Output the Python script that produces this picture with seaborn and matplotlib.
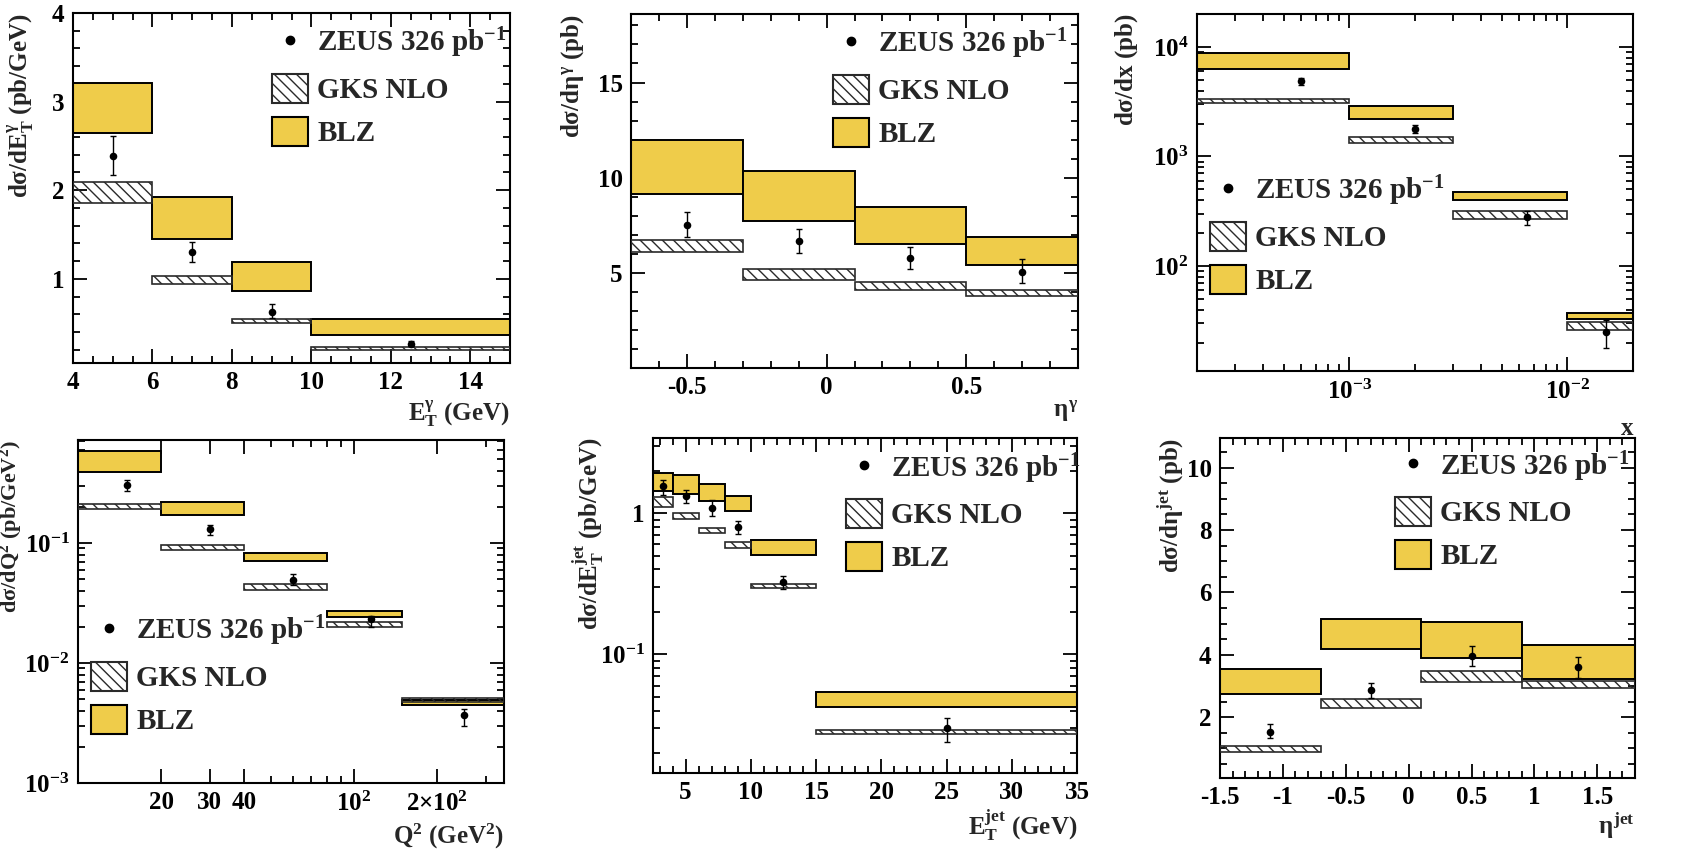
import numpy as np
import matplotlib
matplotlib.use("Agg")
import matplotlib.pyplot as plt
import seaborn as sns
from matplotlib.patches import Patch
from matplotlib.lines import Line2D
from matplotlib.ticker import (MultipleLocator, FixedLocator, FixedFormatter, LogLocator,
                               NullFormatter, FuncFormatter)

# ---------------- data ----------------
# Panel 1: dsigma/dE_T^gamma
ETG_EDGES = [4, 6, 8, 10, 15]
ETG_BLZ_LO = [2.65, 1.45, 0.86, 0.37]
ETG_BLZ_HI = [3.21, 1.92, 1.19, 0.55]
ETG_GKS_LO = [1.86, 0.94, 0.50, 0.20]
ETG_GKS_HI = [2.09, 1.03, 0.55, 0.23]
ETG_X = [5, 7, 9, 12.5]
ETG_Y = [2.39, 1.30, 0.63, 0.27]
ETG_UP = [0.22, 0.11, 0.09, 0.03]
ETG_DN = [0.22, 0.11, 0.07, 0.03]

# Panel 2: dsigma/deta^gamma
ETAG_EDGES = [-0.7, -0.3, 0.1, 0.5, 0.9]
ETAG_BLZ_LO = [9.14, 7.74, 6.54, 5.40]
ETAG_BLZ_HI = [11.98, 10.35, 8.44, 6.86]
ETAG_GKS_LO = [6.11, 4.61, 4.12, 3.77]
ETAG_GKS_HI = [6.72, 5.18, 4.54, 4.09]
ETAG_X = [-0.5, -0.1, 0.3, 0.7]
ETAG_Y = [7.53, 6.65, 5.77, 5.07]
ETAG_UP = [0.68, 0.63, 0.60, 0.65]
ETAG_DN = [0.67, 0.61, 0.59, 0.63]

# Panel 3: dsigma/dx
X_EDGES = [2e-4, 1e-3, 3e-3, 1e-2, 2e-2]
X_BLZ_LO = [6340, 2220, 403, 33]
X_BLZ_HI = [8870, 2900, 470, 37.5]
X_GKS_LO = [3060, 1315, 268, 25.9]
X_GKS_HI = [3380, 1520, 320, 30.8]
X_X = [6e-4, 2e-3, 6.5e-3, 1.5e-2]
X_Y = [4870, 1800, 278, 25]
X_UP = [350, 150, 40, 7]
X_DN = [350, 150, 40, 7]

# Panel 4: dsigma/dQ^2
Q2_EDGES = [10, 20, 40, 80, 150, 350]
Q2_BLZ_LO = [0.388, 0.170, 0.0704, 0.0240, 0.00443]
Q2_BLZ_HI = [0.58, 0.22, 0.0826, 0.0273, 0.00489]
Q2_GKS_LO = [0.19, 0.088, 0.0408, 0.020, 0.00473]
Q2_GKS_HI = [0.211, 0.0957, 0.0455, 0.022, 0.00514]
Q2_X = [15, 30, 60, 115, 250]
Q2_Y = [0.303, 0.131, 0.0495, 0.0234, 0.00371]
Q2_UP = [0.031, 0.011, 0.006, 0.0012, 0.0004]
Q2_DN = [0.033, 0.014, 0.0052, 0.0034, 0.0007]

# Panel 5: dsigma/dE_T^jet
ETJ_EDGES = [2.5, 4, 6, 8, 10, 15, 35]
ETJ_BLZ_LO = [1.44, 1.37, 1.22, 1.04, 0.504, 0.0426]
ETJ_BLZ_HI = [1.92, 1.87, 1.61, 1.33, 0.647, 0.0543]
ETJ_GKS_LO = [1.10, 0.91, 0.72, 0.57, 0.294, 0.0275]
ETJ_GKS_HI = [1.30, 1.01, 0.78, 0.62, 0.315, 0.029]
ETJ_X = [3.25, 5, 7, 9, 12.5, 25]
ETJ_Y = [1.55, 1.33, 1.08, 0.80, 0.327, 0.030]
ETJ_UP = [0.17, 0.13, 0.16, 0.08, 0.033, 0.0055]
ETJ_DN = [0.20, 0.15, 0.12, 0.09, 0.037, 0.006]

# Panel 6: dsigma/deta^jet
ETAJ_EDGES = [-1.5, -0.7, 0.1, 0.9, 1.8]
ETAJ_BLZ_LO = [2.74, 4.18, 3.89, 3.22]
ETAJ_BLZ_HI = [3.54, 5.16, 5.06, 4.32]
ETAJ_GKS_LO = [0.89, 2.30, 3.14, 2.95]
ETAJ_GKS_HI = [1.09, 2.59, 3.49, 3.15]
ETAJ_X = [-1.1, -0.3, 0.5, 1.35]
ETAJ_Y = [1.53, 2.86, 3.95, 3.60]
ETAJ_UP = [0.24, 0.25, 0.33, 0.33]
ETAJ_DN = [0.19, 0.23, 0.32, 0.33]

LEGEND_LABELS = ["ZEUS 326 pb$^{-1}$", "GKS NLO", "BLZ"]

# ---------------- style ----------------
sns.set_theme(style="ticks")
plt.rcParams.update({
    "font.family": ["Liberation Serif", "DejaVu Serif"],
    "font.weight": "bold",
    "axes.labelweight": "bold",
    "mathtext.fontset": "custom",
    "mathtext.rm": "Liberation Serif:bold",
    "mathtext.it": "Liberation Serif:bold",
    "mathtext.bf": "Liberation Serif:bold",
    "mathtext.sf": "Liberation Serif:bold",
    "hatch.linewidth": 1.0,
    "axes.unicode_minus": False,
})

YELLOW = "#EFCC4A"
HATCH = "\\\\\\"
W, H = 1702, 851
TICK_FS = 18
LABEL_FS = 18
LEG_FS = 21

fig = plt.figure(figsize=(W / 100, H / 100), dpi=100)
plain = FuncFormatter(lambda v, p: "%g" % v)


def px_axes(left, right, top, bottom):
    return fig.add_axes([left / W, 1 - bottom / H, (right - left) / W, (bottom - top) / H])


def draw(ax, edges, blo, bhi, glo, ghi, x, y, up, dn):
    edges = np.asarray(edges, float)
    widths = np.diff(edges)
    blo, bhi = np.asarray(blo), np.asarray(bhi)
    glo, ghi = np.asarray(glo), np.asarray(ghi)
    ax.bar(edges[:-1], bhi - blo, width=widths, bottom=blo, align="edge",
           color=YELLOW, edgecolor="black", linewidth=1.4, zorder=2)
    ax.bar(edges[:-1], ghi - glo, width=widths, bottom=glo, align="edge",
           facecolor="none", edgecolor="#2a2a2a", hatch=HATCH, linewidth=1.2, zorder=3)
    ax.errorbar(x, y, yerr=[dn, up], fmt="none", ecolor="black", elinewidth=1.0,
                capsize=2.5, capthick=1.0, zorder=4)
    sns.scatterplot(x=x, y=y, ax=ax, color="black", s=30, marker="o",
                    edgecolor="black", linewidth=0, zorder=5, legend=False)


def style(ax):
    for s in ax.spines.values():
        s.set_linewidth(1.5)
        s.set_color("black")
    ax.tick_params(which="both", direction="in", top=True, right=True,
                   width=1.3, labelsize=TICK_FS, pad=6, colors="black")
    ax.tick_params(which="major", length=10)
    ax.tick_params(which="minor", length=5)
    for lab in ax.get_xticklabels() + ax.get_yticklabels():
        lab.set_fontweight("bold")


def labels(ax, xl, yl, xly, yllx, yfs=LABEL_FS):
    ax.set_xlabel(xl, fontsize=LABEL_FS, fontweight="bold", loc="right")
    ax.set_ylabel(yl, fontsize=yfs, fontweight="bold", loc="top")
    ax.xaxis.set_label_coords(1.0, xly)
    ax.yaxis.set_label_coords(yllx, 1.0)


def legend(ax, px, py):
    handles = [
        Line2D([], [], marker="o", color="black", linestyle="none", markersize=6),
        Patch(facecolor="white", edgecolor="#2a2a2a", hatch=HATCH, linewidth=1.5),
        Patch(facecolor=YELLOW, edgecolor="black", linewidth=1.5),
    ]
    ax.legend(handles, LEGEND_LABELS, loc="upper left",
              bbox_to_anchor=(px / W, 1 - py / H), bbox_transform=fig.transFigure,
              frameon=False, borderpad=0, borderaxespad=0, handlelength=1.25,
              handleheight=1.15, labelspacing=0.45, handletextpad=0.3,
              prop={"family": "Liberation Serif", "weight": "bold", "size": LEG_FS})


def log_minor(ax, axis):
    loc = LogLocator(base=10, subs=np.arange(2, 10), numticks=50)
    if axis == "x":
        ax.xaxis.set_minor_locator(loc)
        ax.xaxis.set_minor_formatter(NullFormatter())
    else:
        ax.yaxis.set_minor_locator(loc)
        ax.yaxis.set_minor_formatter(NullFormatter())


# Panel 1
ax1 = px_axes(73, 510, 13, 363)
draw(ax1, ETG_EDGES, ETG_BLZ_LO, ETG_BLZ_HI, ETG_GKS_LO, ETG_GKS_HI, ETG_X, ETG_Y, ETG_UP, ETG_DN)
ax1.set_xlim(4, 15)
ax1.set_ylim(0.05, 4)
ax1.xaxis.set_major_locator(MultipleLocator(2))
ax1.xaxis.set_minor_locator(MultipleLocator(0.5))
ax1.yaxis.set_major_locator(MultipleLocator(1))
ax1.yaxis.set_minor_locator(MultipleLocator(0.2))
ax1.xaxis.set_major_formatter(plain)
ax1.yaxis.set_major_formatter(plain)
style(ax1)
labels(ax1, r"E$_{T}^{\gamma}$ (GeV)", r"d$\sigma$/dE$_{T}^{\gamma}$ (pb/GeV)", -0.10, -0.085)
legend(ax1, 272, 26)

# Panel 2
ax2 = px_axes(631, 1078, 14, 368)
draw(ax2, ETAG_EDGES, ETAG_BLZ_LO, ETAG_BLZ_HI, ETAG_GKS_LO, ETAG_GKS_HI, ETAG_X, ETAG_Y, ETAG_UP, ETAG_DN)
ax2.set_xlim(-0.7, 0.9)
ax2.set_ylim(0, 18.6)
ax2.xaxis.set_major_locator(FixedLocator([-0.5, 0, 0.5]))
ax2.xaxis.set_minor_locator(MultipleLocator(0.1))
ax2.yaxis.set_major_locator(FixedLocator([5, 10, 15]))
ax2.yaxis.set_minor_locator(MultipleLocator(1))
ax2.xaxis.set_major_formatter(plain)
ax2.yaxis.set_major_formatter(plain)
style(ax2)
labels(ax2, r"$\eta^{\gamma}$", r"d$\sigma$/d$\eta^{\gamma}$ (pb)", -0.085, -0.1)
legend(ax2, 833, 27)

# Panel 3
ax3 = px_axes(1197, 1633, 14, 371)
ax3.set_xscale("log")
ax3.set_yscale("log")
draw(ax3, X_EDGES, X_BLZ_LO, X_BLZ_HI, X_GKS_LO, X_GKS_HI, X_X, X_Y, X_UP, X_DN)
ax3.set_xlim(2e-4, 2e-2)
ax3.set_ylim(11, 2e4)
ax3.xaxis.set_major_locator(FixedLocator([1e-3, 1e-2]))
ax3.xaxis.set_major_formatter(FixedFormatter([r"$10^{-3}$", r"$10^{-2}$"]))
ax3.yaxis.set_major_locator(FixedLocator([1e2, 1e3, 1e4]))
ax3.yaxis.set_major_formatter(FixedFormatter([r"$10^{2}$", r"$10^{3}$", r"$10^{4}$"]))
log_minor(ax3, "x")
log_minor(ax3, "y")
style(ax3)
labels(ax3, "x", r"d$\sigma$/dx (pb)", -0.13, -0.13)
legend(ax3, 1210, 174)

# Panel 4
ax4 = px_axes(78, 504, 440, 783)
ax4.set_xscale("log")
ax4.set_yscale("log")
draw(ax4, Q2_EDGES, Q2_BLZ_LO, Q2_BLZ_HI, Q2_GKS_LO, Q2_GKS_HI, Q2_X, Q2_Y, Q2_UP, Q2_DN)
ax4.set_xlim(10, 350)
ax4.set_ylim(1e-3, 0.72)
ax4.xaxis.set_major_locator(FixedLocator([20, 30, 40, 100, 200]))
ax4.xaxis.set_major_formatter(FixedFormatter(["20", "30", "40", r"$10^{2}$", r"$2{\times}10^{2}$"]))
ax4.yaxis.set_major_locator(FixedLocator([1e-3, 1e-2, 1e-1]))
ax4.yaxis.set_major_formatter(FixedFormatter([r"$10^{-3}$", r"$10^{-2}$", r"$10^{-1}$"]))
log_minor(ax4, "x")
log_minor(ax4, "y")
style(ax4)
labels(ax4, r"Q$^{2}$ (GeV$^{2}$)", r"d$\sigma$/dQ$^{2}$ (pb/GeV$^{2}$)", -0.114, -0.124, yfs=16)
legend(ax4, 91, 614)

# Panel 5
ax5 = px_axes(653, 1077, 438, 773)
ax5.set_yscale("log")
draw(ax5, ETJ_EDGES, ETJ_BLZ_LO, ETJ_BLZ_HI, ETJ_GKS_LO, ETJ_GKS_HI, ETJ_X, ETJ_Y, ETJ_UP, ETJ_DN)
ax5.set_xlim(2.5, 35)
ax5.set_ylim(0.0145, 3.4)
ax5.xaxis.set_major_locator(MultipleLocator(5))
ax5.xaxis.set_minor_locator(MultipleLocator(1))
ax5.xaxis.set_major_formatter(plain)
ax5.yaxis.set_major_locator(FixedLocator([0.1, 1]))
ax5.yaxis.set_major_formatter(FixedFormatter([r"$10^{-1}$", "1"]))
log_minor(ax5, "y")
style(ax5)
labels(ax5, r"E$_{T}^{jet}$ (GeV)", r"d$\sigma$/dE$_{T}^{jet}$ (pb/GeV)", -0.105, -0.11)
legend(ax5, 846, 451)

# Panel 6
ax6 = px_axes(1220, 1635, 438, 778)
draw(ax6, ETAJ_EDGES, ETAJ_BLZ_LO, ETAJ_BLZ_HI, ETAJ_GKS_LO, ETAJ_GKS_HI, ETAJ_X, ETAJ_Y, ETAJ_UP, ETAJ_DN)
ax6.set_xlim(-1.5, 1.8)
ax6.set_ylim(0.05, 10.95)
ax6.xaxis.set_major_locator(FixedLocator([-1.5, -1, -0.5, 0, 0.5, 1, 1.5]))
ax6.xaxis.set_minor_locator(MultipleLocator(0.1))
ax6.yaxis.set_major_locator(FixedLocator([2, 4, 6, 8, 10]))
ax6.yaxis.set_minor_locator(MultipleLocator(0.5))
ax6.xaxis.set_major_formatter(plain)
ax6.yaxis.set_major_formatter(plain)
style(ax6)
labels(ax6, r"$\eta^{jet}$", r"d$\sigma$/d$\eta^{jet}$ (pb)", -0.094, -0.085)
legend(ax6, 1395, 449)

fig.savefig("out.png", dpi=100, facecolor="white")
